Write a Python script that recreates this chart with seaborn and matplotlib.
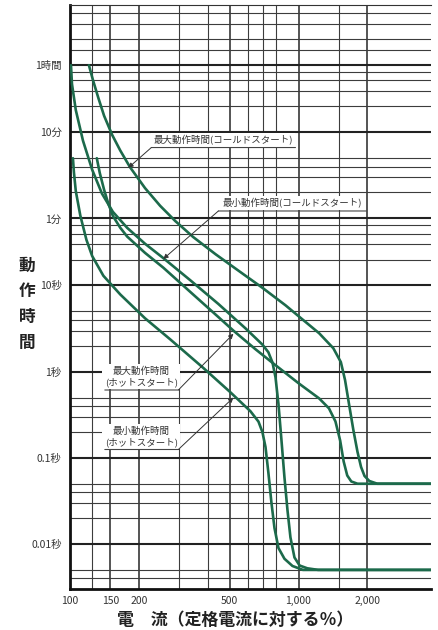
import numpy as np
import pandas as pd
import matplotlib
matplotlib.use("Agg")
import matplotlib.pyplot as plt
from matplotlib.ticker import FixedLocator, NullFormatter
import seaborn as sns

# 動作特性：電流（定格電流に対する%）と動作時間（秒）
max_cold_current = [121, 126, 133, 141, 153, 166, 183, 213, 248, 289, 346, 433, 557, 695,
                    877, 1022, 1231, 1420, 1532, 1598, 1666, 1738, 1812, 1878, 1945, 2041,
                    2212, 3800]
max_cold_time = [3600, 2425, 1508, 932, 558, 368, 236.5, 134.9, 84.1, 55.9, 36.5, 23.1, 14.3,
                 9.40, 5.89, 4.20, 2.79, 1.87, 1.29, 0.80, 0.41, 0.21, 0.117, 0.0782, 0.0615,
                 0.0538, 0.05, 0.05]

min_cold_current = [101, 102, 106, 114, 125, 138, 154, 178, 213, 256, 336, 446, 586, 695,
                    738, 769, 793, 817, 842, 868, 895, 922, 960, 1011, 1092, 1218, 3800]
min_cold_time = [3600, 2180, 1088, 478, 221, 116.5, 71.6, 46.6, 30.5, 20.8, 11.5, 6.10, 3.18,
                 2.06, 1.68, 1.28, 0.860, 0.421, 0.161, 0.0591, 0.0245, 0.0119, 0.00697,
                 0.00562, 0.00522, 0.005, 0.005]

max_hot_current = [131, 135, 141, 147, 154, 166, 178, 213, 256, 336, 446, 519, 648, 777,
                   1000, 1231, 1359, 1451, 1521, 1576, 1634, 1702, 1812, 3800]
max_hot_time = [300, 202, 129, 89.7, 64.2, 46.7, 36.9, 23.9, 16.1, 8.42, 4.30, 2.99, 1.82, 1.24,
                0.734, 0.489, 0.375, 0.264, 0.159, 0.0906, 0.0623, 0.0531, 0.05, 0.05]

min_hot_current = [103, 104, 106, 111, 118, 125, 140, 166, 213, 275, 383, 503, 616, 668,
                   695, 717, 738, 761, 785, 817, 868, 941, 1045, 3800]
min_hot_time = [300, 207.5, 124.9, 64.4, 33.9, 22.0, 12.95, 7.86, 4.16, 2.36, 1.105, 0.577,
                0.347, 0.263, 0.199, 0.1334, 0.0675, 0.0303, 0.0153, 0.00898, 0.00673,
                0.00555, 0.005, 0.005]

# 軸目盛
y_major = [3600, 600, 60, 10, 1, 0.1, 0.01]
y_labels = ["1時間", "10分", "1分", "10秒", "1秒", "0.1秒", "0.01秒"]
y_minor = [14400, 10800, 7200, 5400, 3000, 2400, 1800, 1200, 300, 240, 180, 120,
           50, 40, 30, 20, 5, 4, 3, 2, 0.5, 0.4, 0.3, 0.2,
           0.05, 0.04, 0.03, 0.02, 0.005, 0.004]
x_major = [100, 150, 200, 500, 1000, 2000]
x_labels = ["100", "150", "200", "500", "1,000", "2,000"]
x_minor = [125, 300, 400, 600, 700, 800, 1500]

curve_names = ["最大動作時間(コールドスタート)", "最小動作時間(コールドスタート)",
               "最大動作時間(ホットスタート)", "最小動作時間(ホットスタート)"]

sns.set_style("white")
plt.rcParams["font.family"] = ["Noto Sans CJK JP", "DejaVu Sans"]

df = pd.concat([
    pd.DataFrame({"電流": c, "動作時間": t, "曲線": n})
    for n, c, t in zip(curve_names,
                       [max_cold_current, min_cold_current, max_hot_current, min_hot_current],
                       [max_cold_time, min_cold_time, max_hot_time, min_hot_time])
], ignore_index=True)

W, H = 438, 630
fig = plt.figure(figsize=(W / 100, H / 100), dpi=100)
ax = fig.add_axes([70 / W, 1 - 589 / H, 361 / W, 584 / H])
ax.set_xscale("log")
ax.set_yscale("log")

green = "#1c6a4b"
sns.lineplot(data=df, x="電流", y="動作時間", hue="曲線", estimator=None, sort=False,
             palette={n: green for n in curve_names}, legend=False, lw=1.9, ax=ax, zorder=3)
for line in ax.lines:
    line.set_solid_joinstyle("round")
    line.set_solid_capstyle("round")

ax.set_xlim(100, 3800)
ax.set_ylim(0.003, 18000)

# 目盛と格子
ax.yaxis.set_major_locator(FixedLocator(y_major))
ax.set_yticklabels(y_labels)
ax.yaxis.set_minor_locator(FixedLocator(y_minor))
ax.yaxis.set_minor_formatter(NullFormatter())
ax.xaxis.set_major_locator(FixedLocator(x_major))
ax.set_xticklabels(x_labels)
ax.xaxis.set_minor_locator(FixedLocator(x_minor))
ax.xaxis.set_minor_formatter(NullFormatter())

ax.set_axisbelow(True)
ax.grid(which="major", axis="y", color="#222222", lw=1.5)
ax.grid(which="minor", axis="y", color="#3c3c3c", lw=0.8)
ax.grid(which="major", axis="x", color="#262626", lw=1.1)
ax.grid(which="minor", axis="x", color="#3c3c3c", lw=0.8)
ax.tick_params(which="both", length=0, labelsize=7.5, colors="#333333")
ax.tick_params(axis="y", pad=6)
ax.tick_params(axis="x", pad=5)
ax.set_xlabel("")
ax.set_ylabel("")

for side in ["left", "bottom"]:
    ax.spines[side].set_linewidth(2.0)
    ax.spines[side].set_color("#111111")
ax.spines["top"].set_linewidth(0.8)
ax.spines["top"].set_color("#333333")
ax.spines["right"].set_visible(False)

# 引出し線付きの注記
def callout(text, cx, text_bottom, line_y, x0, x1, start, tip):
    ax.text(cx, text_bottom, text, ha="center", va="bottom", fontsize=6.8, color="#333333",
            linespacing=1.15, zorder=4,
            bbox=dict(boxstyle="square,pad=0.25", fc="white", ec="none"))
    ax.annotate("", xy=(x1, line_y), xytext=(x0, line_y), zorder=5,
                arrowprops=dict(arrowstyle="-", lw=0.8, color="#444444", shrinkA=0, shrinkB=0))
    ax.annotate("", xy=tip, xytext=(start, line_y), zorder=5,
                arrowprops=dict(arrowstyle="-|>", lw=0.7, color="#333333", mutation_scale=7,
                                shrinkA=0, shrinkB=0))

callout("最大動作時間(コールドスタート)", 469, 427, 399, 227, 970, 227, (180, 232))
callout("最小動作時間(コールドスタート)", 936, 79.3, 73.2, 446, 1987, 446, (256, 20.3))
callout("最大動作時間\n(ホットスタート)", 205, 0.663, 0.612, 142, 298, 298, (519, 2.75))
callout("最小動作時間\n(ホットスタート)", 205, 0.1334, 0.1248, 142, 298, 298, (519, 0.50))

# 軸名
fig.text(27 / W, 1 - 304 / H, "動\n作\n時\n間", ha="center", va="center", fontsize=12,
         linespacing=1.55, color="#222222", fontweight="bold")
fig.text(235 / W, 1 - 620 / H, "電\u3000流（定格電流に対する％）", ha="center", va="center",
         fontsize=12.2, color="#222222", fontweight="bold")

fig.savefig("out.png", dpi=100, facecolor="white")
